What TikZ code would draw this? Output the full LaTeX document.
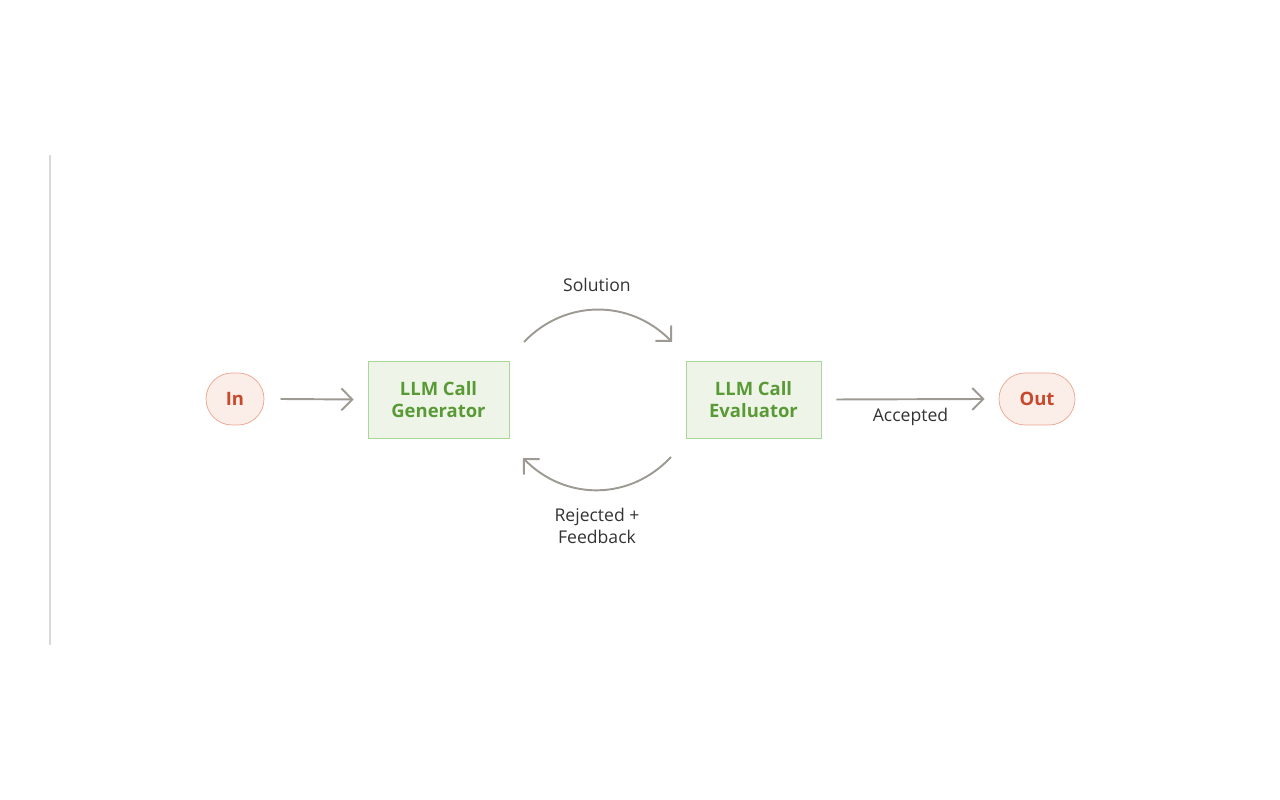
\documentclass[tikz,border=0pt]{standalone}
\usepackage{fontspec}
\setmainfont{Open Sans}
\usepackage{tikz}
\usetikzlibrary{arrows.meta}
\definecolor{inFill}{HTML}{FBEDE8}
\definecolor{inLine}{HTML}{EDA58F}
\definecolor{inText}{HTML}{C9472A}
\definecolor{llmFill}{HTML}{EEF5E8}
\definecolor{llmLine}{HTML}{A9D79B}
\definecolor{llmText}{HTML}{5A9A36}
\definecolor{flowGray}{HTML}{9C9A92}
\definecolor{labelText}{HTML}{333333}
\begin{document}
\begin{tikzpicture}[-,auto,
    io node/.style={rounded corners=0.52cm, draw=inLine, fill=inFill, text=inText, font=\bfseries\fontsize{10.5}{12}\selectfont, minimum height=1.04cm},
    llm node/.style={rectangle, draw=llmLine, fill=llmFill, text=llmText, font=\bfseries\fontsize{10.5}{12.5}\selectfont, align=center, minimum height=1.54cm},
    flow/.style={draw=flowGray, line width=1.1pt, -{Straight Barb[length=2.2mm,width=4.4mm]}},
    lbl/.style={text=labelText, font=\fontsize{10}{12.5}\selectfont, align=center}]
			\useasboundingbox (0,0) rectangle (25.6,16);
			\draw[black!15, line width=0.6pt] (1,3.1) -- (1,12.9);
			% Nodes
			\node[io node, minimum width=1.16cm] (in) at (4.7,8.02) {In};
			\node[llm node, minimum width=2.82cm] (gen) at (8.77,8.01) {LLM Call\\Generator};
			\node[llm node, minimum width=2.7cm] (eval) at (15.07,8.01) {LLM Call\\Evaluator};
			\node[io node, minimum width=1.52cm] (out) at (20.74,8.02) {Out};
			
			\coordinate (s1) at (10.48,9.16);
			\coordinate (s2) at (13.44,9.16);
			\coordinate (r1) at (13.42,6.86);
			\coordinate (r2) at (10.46,6.84);
			
			\draw[flow] (in) ++(0.91,0) -- ([xshift=-0.28cm]gen.west);
			\draw[flow] ([xshift=0.3cm]eval.east) -- node[lbl, below, yshift=-0.05cm] {Accepted} ([xshift=-0.28cm]out.west);
			\draw[flow] (s1) .. controls (11.3,10.02) and (12.6,10.02) .. (s2);
			\draw[flow] (r1) .. controls (12.6,5.98) and (11.3,5.98) .. (r2);
			
			\node[lbl] (sol) at (11.94,10.3) {Solution};
			\node[lbl] (rej) at (11.94,5.48) {Rejected +\\Feedback};
			
		\end{tikzpicture}
\end{document}
